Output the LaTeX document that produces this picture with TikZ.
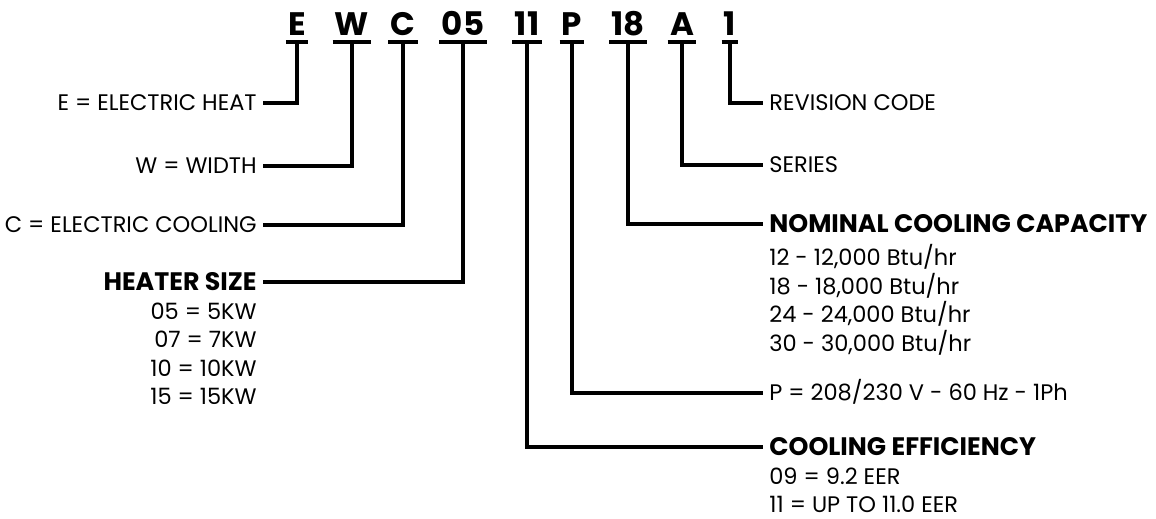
\documentclass[tikz,border=0pt]{standalone}
\usepackage{fontspec}
\setmainfont{Poppins}
\usetikzlibrary{positioning}
\tikzset{>=latex}
\tikzset{
  code/.style={font=\fontsize{18.5}{18.5}\selectfont\bfseries, inner xsep=0.04cm, inner ysep=0.13cm, text depth=0pt, anchor=south},
  bar/.style={line width=1.9pt},
  wire/.style={line width=1.9pt},
  lbl/.style={font=\fontsize{12.8}{12.8}\selectfont, text height=9pt, text depth=0pt, inner xsep=0.12cm, inner ysep=0pt},
  head/.style={lbl, font=\fontsize{14.4}{14.4}\selectfont\bfseries, text height=10.1pt},
  lst/.style={font=\fontsize{12.8}{16.2}\selectfont, inner xsep=0.12cm, inner ysep=0pt}
}

\begin{document}
\begin{tikzpicture}[x=0.02cm, y=-0.02cm]
  \useasboundingbox (0,0) rectangle (1156,518);
  % model code
  \node[code] (cE) at (297,42) {E};
  \node[code] (cW) at (352,42) {W};
  \node[code] (cC) at (403,42) {C};
  \node[code] (c05) at (463,42) {05};
  \node[code] (c11) at (527,42) {11};
  \node[code] (cP) at (572,42) {P};
  \node[code] (c18) at (628,42) {18};
  \node[code] (cA) at (682,42) {A};
  \node[code] (c1) at (730,42) {1};
  \foreach \c in {cE,cW,cC,c05,c11,cP,c18,cA,c1}
    \draw[bar] (\c.south west) -- (\c.south east);

  % left side
  \node[lbl, anchor=east] (lE) at (263,103) {E = ELECTRIC HEAT};
  \node[lbl, anchor=east] (lW) at (263,166) {W = WIDTH};
  \node[lbl, anchor=east] (lC) at (263,225) {C = ELECTRIC COOLING};
  \node[head, anchor=east] (lHeat) at (263,282) {HEATER SIZE};
  \node[lst, below=0.22cm of lHeat.south east, anchor=north east, align=right] (lHeatList)
    {05 = 5KW\\ 07 = 7KW\\ 10 = 10KW\\ 15 = 15KW};

  % right side
  \node[lbl, anchor=west] (lRev) at (763,103) {REVISION CODE};
  \node[lbl, anchor=west] (lSer) at (763,165) {SERIES};
  \node[head, anchor=west] (lCap) at (763,224) {NOMINAL COOLING CAPACITY};
  \node[lst, below=0.22cm of lCap.south west, anchor=north west, align=left] (lCapList)
    {12 - 12,000 Btu/hr\\ 18 - 18,000 Btu/hr\\ 24 - 24,000 Btu/hr\\ 30 - 30,000 Btu/hr};
  \node[lbl, anchor=west] (lVolt) at (763,393) {P = 208/230 V - 60 Hz - 1Ph};
  \node[head, anchor=west] (lEff) at (763,447) {COOLING EFFICIENCY};
  \node[lst, below=0.22cm of lEff.south west, anchor=north west, align=left] (lEffList)
    {09 = 9.2 EER\\ 11 = UP TO 11.0 EER};

  % connectors
  \draw[wire] (cE.south) |- (lE.east);
  \draw[wire] (cW.south) |- (lW.east);
  \draw[wire] (cC.south) |- (lC.east);
  \draw[wire] (c05.south) |- (lHeat.east);
  \draw[wire] (c11.south) |- (lEff.west);
  \draw[wire] (cP.south) |- (lVolt.west);
  \draw[wire] (c18.south) |- (lCap.west);
  \draw[wire] (cA.south) |- (lSer.west);
  \draw[wire] (c1.south) |- (lRev.west);
\end{tikzpicture}
\end{document}
